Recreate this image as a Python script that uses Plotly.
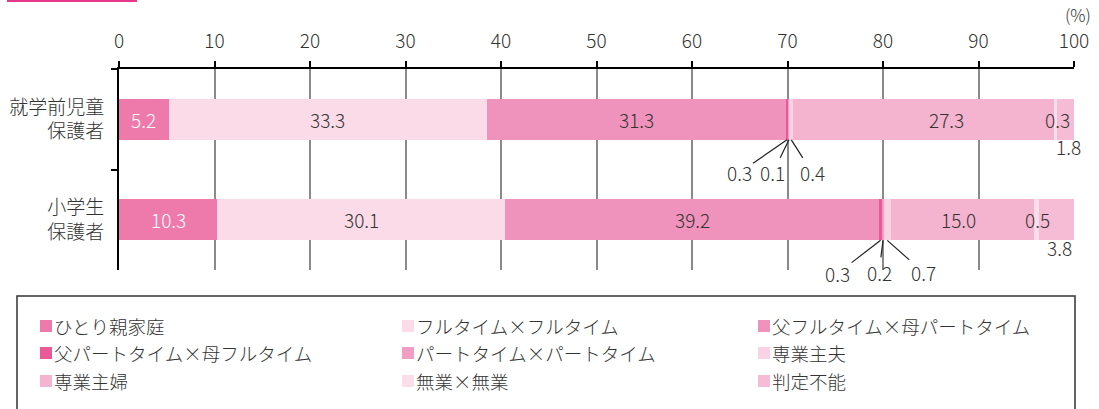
import plotly.graph_objects as go

categories = ["就学前児童<br>保護者", "小学生<br>保護者"]
series_names = ["ひとり親家庭", "フルタイム×フルタイム", "父フルタイム×母パートタイム",
                "父パートタイム×母フルタイム", "パートタイム×パートタイム", "専業主夫",
                "専業主婦", "無業×無業", "判定不能"]
preschool = [5.2, 33.3, 31.3, 0.3, 0.1, 0.4, 27.3, 0.3, 1.8]
elementary = [10.3, 30.1, 39.2, 0.3, 0.2, 0.7, 15.0, 0.5, 3.8]
x_ticks = [0, 10, 20, 30, 40, 50, 60, 70, 80, 90, 100]

colors = ["#ee7aab", "#fbdbe8", "#f093bc", "#e95a97", "#f29dc3",
          "#f9d3e4", "#f4b4cf", "#fbdeea", "#f6bcd6"]

FONT = "Noto Sans CJK JP Light, Noto Sans CJK JP DemiLight, Noto Sans CJK JP"
FW = 300
TXT = "#333333"

W, H = 1099, 409
L, R, T, B = 119, 25, 69, 139
PW, PH = W - L - R, H - T - B


def px2x(px):
    return (px - L) / PW


def px2y(py):
    return (H - B - py) / PH


def fnt(size, color=TXT):
    return dict(family=FONT, size=size, color=color, weight=FW)


fig = go.Figure()
rows = [preschool, elementary]
for i, name in enumerate(series_names):
    fig.add_trace(go.Bar(
        y=categories, x=[rows[0][i], rows[1][i]], name=name, orientation="h",
        marker=dict(color=colors[i], line=dict(width=0)), width=0.41,
        showlegend=False, hoverinfo="x+name"))

# label placement styles per (row, series): mode, xshift/ax, yshift/ay
styles = {
    (0, 0): ("in", 0, 0), (0, 1): ("in", 0, 0), (0, 2): ("in", 0, 0),
    (0, 3): ("arrow", -48, 33), (0, 4): ("arrow", -16, 33), (0, 5): ("arrow", 21, 33),
    (0, 6): ("in", 23, 0), (0, 7): ("in", 2, 0), (0, 8): ("in", 3, -27),
    (1, 0): ("in", 0, 0), (1, 1): ("in", 0, 0), (1, 2): ("in", 0, 0),
    (1, 3): ("arrow", -43, 33), (1, 4): ("arrow", -4, 32), (1, 5): ("arrow", 36, 32),
    (1, 6): ("in", -4, 0), (1, 7): ("in", 1, 0), (1, 8): ("in", 3, -28),
}

for r, vals in enumerate(rows):
    cum = 0.0
    for i, v in enumerate(vals):
        c = cum + v / 2
        cum += v
        mode, a, b = styles[(r, i)]
        col = "white" if i == 0 else TXT
        if mode == "in":
            fig.add_annotation(x=c, y=categories[r], text=f"{v:.1f}", showarrow=False,
                               xshift=a, yshift=b, font=fnt(19, col))
        else:
            fig.add_annotation(x=c, y=r + 0.205, yref="y", text=f"{v:.1f}", showarrow=True,
                               arrowhead=0, arrowwidth=1.2, arrowcolor="#222", ax=a, ay=b,
                               standoff=0, font=fnt(19))

# (%) unit label
fig.add_annotation(x=px2x(1078), y=px2y(15), xref="paper", yref="paper", text="(%)",
                   xanchor="center", yanchor="middle", showarrow=False, font=fnt(17))

# top-left decoration
fig.add_shape(type="rect", xref="paper", yref="paper", x0=px2x(7), x1=px2x(137),
              y0=px2y(2), y1=px2y(-12), fillcolor="#e8388c", line=dict(width=0), layer="above")

# legend box
fig.add_shape(type="rect", xref="paper", yref="paper", x0=px2x(17), x1=px2x(1075),
              y0=px2y(296), y1=px2y(430), fillcolor="rgba(0,0,0,0)",
              line=dict(color="#333", width=1.5))

col_sq = [40, 402, 758]
row_y = [326, 353, 381]
for i, name in enumerate(series_names):
    cx = col_sq[i % 3]
    cy = row_y[i // 3]
    fig.add_shape(type="rect", xref="paper", yref="paper", x0=px2x(cx), x1=px2x(cx + 12),
                  y0=px2y(cy + 6), y1=px2y(cy - 6), fillcolor=colors[i], line=dict(width=0))
    fig.add_annotation(x=px2x(cx + 12), y=px2y(cy), xref="paper", yref="paper", text=name,
                       showarrow=False, xanchor="left", yanchor="middle", font=fnt(18.5))

fig.update_layout(
    width=W, height=H, margin=dict(l=L, r=R, t=T, b=B, pad=0, autoexpand=False),
    plot_bgcolor="white", paper_bgcolor="white", barmode="stack",
    font=dict(family=FONT, color=TXT, weight=FW),
    xaxis=dict(side="top", range=[0, 100], tickvals=x_ticks, ticktext=[str(t) for t in x_ticks],
               showgrid=True, gridcolor="#8a8a8a", gridwidth=1.5, zeroline=False,
               showline=True, linecolor="black", linewidth=2, ticks="outside", ticklen=6,
               tickcolor="black", tickwidth=1.5, ticklabelstandoff=5, automargin=False,
               tickfont=fnt(19), fixedrange=True),
    yaxis=dict(autorange=False, range=[1.5, -0.5], type="category", showline=True,
               linecolor="black", linewidth=2, ticks="outside", ticklen=6, tickcolor="black",
               tickwidth=2, tickson="boundaries", showgrid=False, ticklabelstandoff=9,
               automargin=False, tickfont=fnt(19), fixedrange=True),
)

fig.write_html("out.html", post_script="document.body.style.margin='0';",
               config={"displayModeBar": False})
